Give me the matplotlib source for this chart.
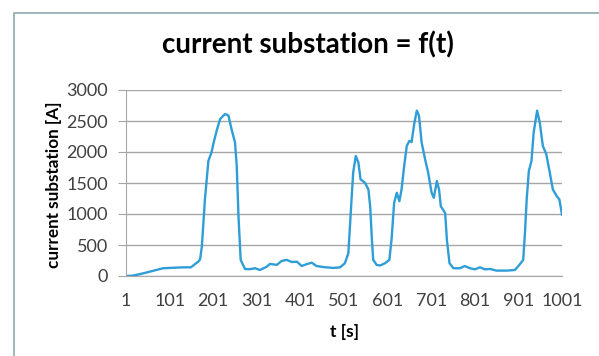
import matplotlib
matplotlib.use('Agg')
import matplotlib.pyplot as plt
from matplotlib.patches import Rectangle

# time [s] and current [A]
t = [1, 15, 33, 50, 86, 132, 150, 168, 171, 175, 182, 190, 197, 203, 210, 217,
     228, 236, 243, 251, 255, 259, 264, 274, 285, 297, 308, 324, 331, 347, 358,
     370, 381, 393, 404, 415, 427, 438, 453, 476, 492, 503, 511, 516, 522, 528,
     534, 539, 549, 557, 561, 565, 568, 576, 584, 595, 605, 610, 616, 622, 628,
     633, 639, 645, 651, 656, 662, 668, 673, 679, 687, 694, 702, 707, 714, 719,
     723, 733, 737, 743, 752, 767, 778, 790, 801, 813, 824, 836, 851, 874, 893,
     903, 912, 916, 920, 925, 931, 936, 944, 950, 957, 965, 973, 980, 989, 995,
     1001]
current = [0, 5, 30, 60, 125, 140, 140, 240, 270, 476, 1234, 1856, 1992, 2180,
           2370, 2532, 2613, 2587, 2370, 2155, 1775, 963, 260, 113, 110, 125, 97,
           150, 195, 180, 243, 260, 226, 230, 161, 190, 215, 161, 145, 130, 140,
           206, 368, 963, 1667, 1937, 1830, 1558, 1505, 1396, 1125, 584, 260, 178,
           170, 206, 260, 584, 1180, 1342, 1206, 1396, 1775, 2099, 2180, 2160,
           2451, 2667, 2586, 2155, 1883, 1667, 1342, 1261, 1531, 1396, 1125, 1017,
           584, 206, 125, 125, 161, 125, 108, 140, 108, 113, 87, 87, 97, 178, 260,
           692, 1234, 1694, 1856, 2316, 2667, 2478, 2099, 1964, 1667, 1396, 1288,
           1234, 990]
xticks = [1, 101, 201, 301, 401, 501, 601, 701, 801, 901, 1001]
yticks = [0, 500, 1000, 1500, 2000, 2500, 3000]

plt.rcParams['font.family'] = ['Lato', 'DejaVu Sans']
W, H = 599, 356
fig = plt.figure(figsize=(W / 100, H / 100), dpi=100)

# chart area border
fig.patches.append(Rectangle((14 / W, -0.1), 1.2, 1 - 13 / H + 0.1,
                             transform=fig.transFigure, fill=False,
                             edgecolor='#8fa9ad', linewidth=1.2))

ax = fig.add_axes([126 / W, 1 - 276 / H, (562 - 126) / W, (276 - 90) / H])
ax.plot(t, current, color='#2f9dd6', linewidth=1.7)
ax.set_xlim(1, 1001)
ax.set_ylim(0, 3000)
ax.set_xticks(xticks)
ax.set_yticks(yticks)
ax.grid(axis='y', color='#a6a6a6', linewidth=1)
ax.set_axisbelow(True)
for s in ['top', 'right']:
    ax.spines[s].set_visible(False)
ax.spines['left'].set_color('#a6a6a6')
ax.spines['bottom'].set_color('#a6a6a6')
ax.tick_params(axis='y', length=6, color='#a6a6a6', labelsize=13,
               labelcolor='#404040', pad=7)
ax.tick_params(axis='x', length=0, labelsize=13, labelcolor='#404040', pad=12)

fig.text(308 / W, 1 - 45 / H, 'current substation = f(t)', ha='center',
         va='center', fontsize=20, fontweight='bold', color='#000000')
fig.text(54 / W, 1 - 185 / H, 'current substation [A]', ha='center',
         va='center', rotation=90, fontsize=12.3, fontweight='bold')
fig.text(344 / W, 1 - 332 / H, 't [s]', ha='center', va='center',
         fontsize=12.5, fontweight='bold')

fig.savefig('out.png', dpi=100)
